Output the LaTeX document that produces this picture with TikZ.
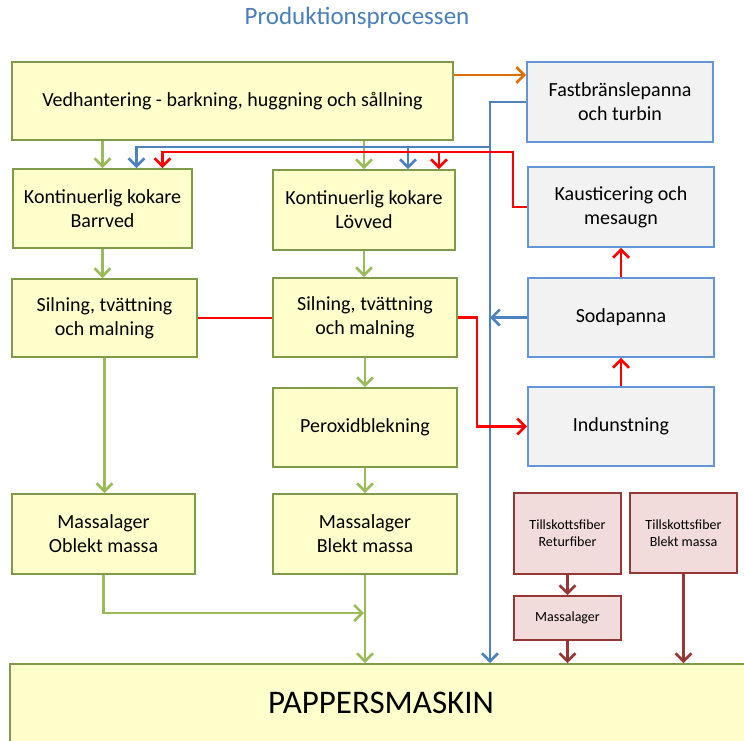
\documentclass[tikz,border=0pt]{standalone}
\usepackage{fontspec}
\setmainfont{Carlito}
\usetikzlibrary{arrows.meta}

\definecolor{gfill}{HTML}{FFFFCC}
\definecolor{gline}{HTML}{7F9A48}
\definecolor{garr}{HTML}{9BBB59}
\definecolor{bline}{HTML}{4F81BD}
\definecolor{kline}{HTML}{6495D6}
\definecolor{kfill}{HTML}{F2F2F2}
\definecolor{dred}{HTML}{953735}
\definecolor{rfill}{HTML}{F2DCDB}
\definecolor{oran}{HTML}{E46C0A}
\definecolor{ttl}{HTML}{4A7EBB}

\tikzset{
  gbox/.style={draw=gline, fill=gfill, line width=1.8pt, align=center, inner sep=0pt,
    font=\fontsize{20}{24}\selectfont},
  kbox/.style={draw=kline, fill=kfill, line width=1.8pt, align=center, inner sep=0pt,
    font=\fontsize{20}{24}\selectfont},
  pbox/.style={draw=dred, fill=rfill, line width=1.8pt, align=center, inner sep=0pt,
    font=\fontsize{14}{17}\selectfont},
  tip/.style={-{Straight Barb[length=8pt,width=16pt]}},
  garrow/.style={tip, draw=garr, line width=2.6pt},
  barrow/.style={tip, draw=bline, line width=2.6pt},
  rarrow/.style={tip, draw=red, line width=2.6pt},
  rline/.style={draw=red, line width=2.6pt},
  oarrow/.style={tip, draw=oran, line width=2.6pt},
  darrow/.style={tip, draw=dred, line width=2.6pt},
}

\begin{document}
\begin{tikzpicture}[x=1pt,y=-1pt]
  \useasboundingbox (0,0) rectangle (744,740);
  \clip (0,0) rectangle (744,740);

  \node[text=ttl, font=\fontsize{25}{30}\selectfont] (title) at (357,18) {Produktionsprocessen};

  % left and middle column
  \node[gbox, minimum width=441pt, minimum height=78pt] (ved) at (232.5,101)
    {Vedhantering - barkning, huggning och sållning};
  \node[gbox, minimum width=179pt, minimum height=79pt] (barr) at (102.5,208.5)
    {Kontinuerlig kokare\\Barrved};
  \node[gbox, minimum width=182pt, minimum height=80pt] (lov) at (364,210)
    {Kontinuerlig kokare\\Lövved};
  \node[gbox, minimum width=185pt, minimum height=78pt] (sil1) at (104.5,318)
    {Silning, tvättning\\och malning};
  \node[gbox, minimum width=184pt, minimum height=79pt] (sil2) at (365,317.5)
    {Silning, tvättning\\och malning};
  \node[gbox, minimum width=184pt, minimum height=79pt] (perox) at (365,427.5)
    {Peroxidblekning};
  \node[gbox, minimum width=183pt, minimum height=80pt] (obl) at (103.5,534)
    {Massalager\\Oblekt massa};
  \node[gbox, minimum width=184pt, minimum height=80pt] (bla) at (365,534)
    {Massalager\\Blekt massa};
  \node[gbox, minimum width=740pt, minimum height=82pt] (papp) at (380,705) {};
  \node[font=\fontsize{33}{38}\selectfont] (papptext) at (381,703) {PAPPERSMASKIN};

  % right column
  \node[kbox, minimum width=186pt, minimum height=80pt] (fast) at (620,102)
    {Fastbränslepanna\\och turbin};
  \node[kbox, minimum width=186pt, minimum height=80pt] (kaus) at (621,207)
    {Kausticering och\\mesaugn};
  \node[kbox, minimum width=186pt, minimum height=79pt] (soda) at (621,317.5)
    {Sodapanna};
  \node[kbox, minimum width=186pt, minimum height=79pt] (ind) at (621,426.5)
    {Indunstning};
  \node[pbox, minimum width=107pt, minimum height=81pt] (ret) at (567.5,533.5)
    {Tillskottsfiber\\Returfiber};
  \node[pbox, minimum width=107pt, minimum height=80pt] (blm) at (683.5,533)
    {Tillskottsfiber\\Blekt massa};
  \node[pbox, minimum width=107pt, minimum height=44pt] (mlag) at (567.5,618)
    {Massalager};

  \coordinate (bjoin) at (490,147);
  \coordinate (rjoin) at (513,152);
  \coordinate (gjoin) at (365,613);

  % fibre line
  \draw[garrow] (ved.south -| barr.north) -- (barr.north);
  \draw[garrow] (ved.south -| lov.north) -- (lov.north);
  \draw[garrow] (barr.south) -- (barr.south |- sil1.north);
  \draw[garrow] (lov.south) -- (lov.south |- sil2.north);
  \draw[garrow] (sil1.south) -- (sil1.south |- obl.north);
  \draw[garrow] (sil2.south) -- (perox.north);
  \draw[garrow] (perox.south) -- (bla.north);
  \draw[garrow] (obl.south) |- ([xshift=-1pt]gjoin);
  \draw[garrow] (bla.south) -- (bla.south |- papp.north);

  % energy
  \draw[oarrow] ([yshift=26pt]ved.east) -- ([yshift=26pt]ved.east -| fast.west);
  \draw[barrow] (fast.west) -| (bjoin |- papp.north);
  \draw[barrow] (bjoin) -| ([xshift=34pt]barr.north);
  \draw[barrow] (408,147) -- (408,147 |- lov.north);
  \draw[barrow] (soda.west) -- (soda.west -| bjoin);

  % chemicals
  \draw[rarrow] (kaus.west) -| (rjoin) -| ([xshift=60pt]barr.north);
  \draw[rarrow] (439,152) -- (439,152 |- lov.north);
  \draw[rline] (sil1.east) -- (sil1.east -| sil2.west);
  \draw[rarrow] (sil2.east) -| ([xshift=-50pt]ind.west) -- (ind.west);
  \draw[rarrow] (ind.north) -- (soda.south);
  \draw[rarrow] (soda.north) -- (kaus.south);

  % extra fibre
  \draw[darrow] (ret.south) -- (mlag.north);
  \draw[darrow] (mlag.south) -- (mlag.south |- papp.north);
  \draw[darrow] (blm.south) -- (blm.south |- papp.north);
\end{tikzpicture}
\end{document}
